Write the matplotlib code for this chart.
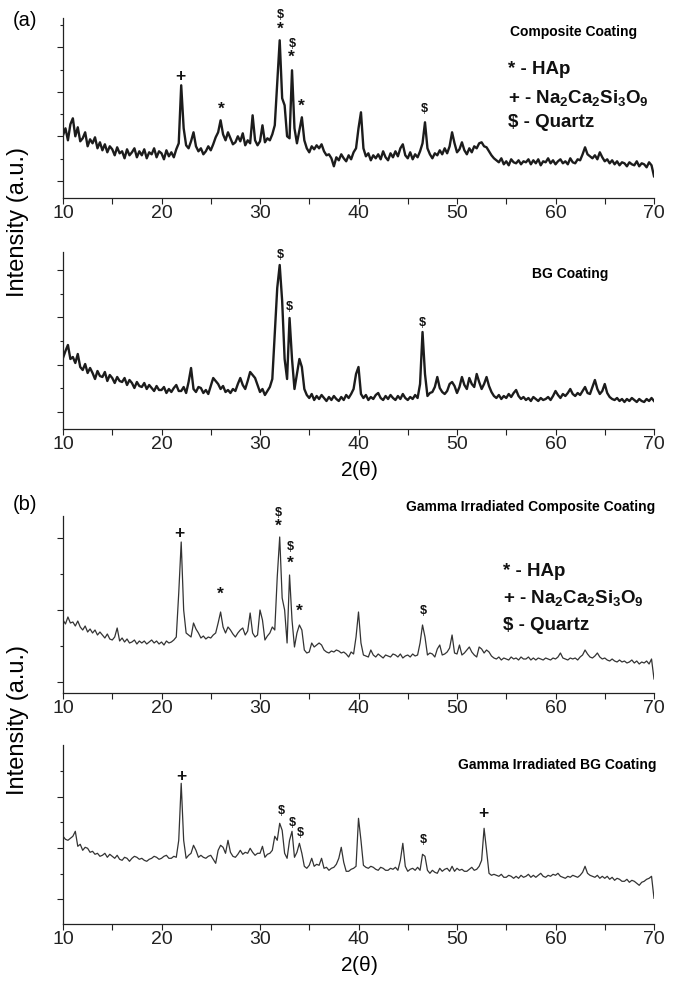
import numpy as np
import matplotlib
matplotlib.use("Agg")
import matplotlib.pyplot as plt
from matplotlib.ticker import MultipleLocator

plt.rcParams['font.family'] = ['Liberation Sans', 'DejaVu Sans']
plt.rcParams['mathtext.fontset'] = 'custom'
plt.rcParams['mathtext.rm'] = 'Liberation Sans:bold'
plt.rcParams['mathtext.it'] = 'Liberation Sans:bold'
plt.rcParams['mathtext.bf'] = 'Liberation Sans:bold'

# 2theta grid, 0.25 deg steps, intensities (a.u.)
two_theta = np.arange(10, 70.001, 0.25)

composite = [
    63, 70, 58, 74, 80, 62, 71, 57, 60, 66, 52, 59, 55, 61, 50, 56,
    48, 54, 46, 52, 49, 43, 51, 45, 47, 40, 49, 43, 46, 50, 41, 47,
    43, 49, 40, 46, 44, 50, 41, 47, 45, 39, 48, 42, 46, 41, 49, 55,
    113, 70, 53, 50, 57, 66, 52, 47, 50, 44, 47, 52, 48, 54, 61, 66,
    78, 64, 58, 66, 60, 54, 56, 62, 57, 65, 53, 58, 55, 83, 58, 53,
    57, 73, 56, 60, 58, 64, 73, 116, 158, 100, 93, 62, 60, 128, 70, 55,
    68, 81, 58, 50, 46, 52, 49, 53, 50, 54, 47, 43, 44, 40, 32, 41,
    38, 44, 40, 37, 43, 39, 46, 50, 70, 86, 50, 42, 45, 38, 43, 40,
    44, 39, 47, 41, 38, 45, 41, 47, 42, 50, 54, 43, 40, 46, 39, 44,
    41, 47, 55, 76, 50, 44, 40, 45, 43, 48, 44, 50, 45, 52, 66, 55,
    46, 49, 56, 48, 44, 50, 46, 52, 50, 55, 56, 52, 51, 47, 43, 40,
    38, 36, 40, 34, 37, 33, 39, 36, 35, 38, 34, 37, 36, 39, 34, 38,
    35, 39, 33, 37, 36, 40, 35, 38, 34, 37, 39, 35, 37, 34, 40, 36,
    35, 39, 38, 44, 51, 44, 42, 40, 43, 39, 46, 41, 37, 39, 35, 38,
    34, 37, 33, 36, 35, 32, 36, 34, 33, 37, 32, 35, 34, 31, 36, 33,
    22]

bg = [
    71, 78, 84, 70, 72, 66, 75, 62, 59, 65, 56, 61, 56, 50, 58, 53,
    52, 57, 48, 54, 51, 46, 52, 48, 47, 51, 44, 49, 46, 41, 47, 43,
    42, 46, 40, 44, 41, 38, 43, 39, 39, 42, 36, 40, 37, 41, 44, 38,
    38, 42, 36, 47, 61, 40, 37, 42, 41, 36, 39, 35, 43, 51, 48, 45,
    40, 43, 37, 39, 36, 40, 38, 45, 51, 44, 40, 48, 57, 54, 51, 44,
    37, 40, 34, 38, 42, 50, 95, 141, 164, 128, 70, 50, 111, 70, 40, 55,
    70, 62, 40, 34, 31, 35, 29, 33, 30, 34, 31, 28, 32, 29, 33, 30,
    28, 32, 29, 34, 31, 35, 40, 55, 62, 35, 31, 34, 29, 32, 30, 34,
    36, 31, 29, 33, 30, 34, 31, 29, 33, 30, 35, 31, 29, 32, 30, 34,
    31, 45, 97, 55, 33, 36, 37, 42, 52, 41, 37, 35, 38, 45, 47, 43,
    36, 42, 52, 44, 40, 51, 45, 42, 55, 47, 40, 45, 52, 43, 37, 33,
    31, 34, 30, 33, 31, 35, 32, 36, 39, 33, 30, 32, 29, 31, 28, 32,
    30, 28, 31, 29, 30, 32, 29, 33, 38, 34, 31, 35, 33, 36, 40, 35,
    33, 36, 34, 38, 42, 36, 35, 42, 49, 40, 35, 38, 45, 36, 32, 30,
    29, 31, 28, 30, 27, 30, 28, 31, 29, 27, 30, 28, 27, 30, 28, 31,
    28]

gamma_composite = [
    73, 69, 76, 70, 71, 67, 72, 66, 63, 67, 61, 64, 60, 63, 58, 61,
    58, 55, 59, 54, 53, 56, 65, 52, 55, 51, 54, 50, 51, 53, 49, 52,
    50, 52, 49, 51, 53, 50, 52, 49, 51, 48, 52, 50, 51, 53, 56, 100,
    151, 83, 60, 58, 56, 70, 64, 60, 55, 57, 54, 56, 55, 58, 60, 70,
    81, 66, 60, 66, 63, 59, 56, 60, 63, 65, 58, 62, 80, 60, 56, 58,
    83, 73, 53, 57, 60, 66, 63, 116, 156, 95, 83, 50, 118, 73, 46, 60,
    68, 63, 43, 40, 41, 50, 46, 48, 50, 48, 43, 41, 40, 42, 41, 43,
    42, 40, 41, 39, 36, 41, 39, 56, 81, 50, 38, 37, 36, 43, 38, 36,
    39, 37, 35, 38, 37, 36, 39, 38, 36, 39, 35, 37, 38, 36, 39, 37,
    38, 50, 68, 56, 38, 40, 39, 36, 44, 48, 38, 39, 41, 45, 58, 40,
    39, 48, 38, 40, 43, 46, 41, 38, 36, 46, 44, 40, 43, 41, 37, 35,
    34, 36, 33, 35, 34, 33, 36, 34, 35, 33, 36, 34, 34, 36, 33, 35,
    33, 35, 34, 33, 35, 34, 33, 35, 34, 36, 40, 35, 34, 33, 35, 34,
    35, 33, 36, 38, 43, 39, 36, 35, 37, 40, 36, 34, 35, 33, 32, 34,
    32, 31, 33, 31, 32, 30, 31, 33, 30, 32, 29, 31, 30, 32, 29, 34,
    14]

gamma_bg = [
    88, 85, 84, 86, 88, 93, 78, 80, 74, 77, 76, 72, 73, 70, 71, 68,
    69, 71, 67, 70, 68, 66, 69, 65, 64, 67, 66, 63, 66, 68, 67, 65,
    66, 64, 63, 65, 66, 68, 67, 65, 66, 68, 69, 66, 66, 68, 67, 84,
    141, 84, 66, 69, 71, 79, 74, 67, 69, 67, 66, 68, 69, 65, 61, 74,
    79, 77, 71, 84, 72, 68, 67, 70, 74, 70, 72, 71, 76, 72, 69, 71,
    71, 78, 67, 70, 71, 74, 88, 84, 101, 94, 71, 66, 84, 93, 67, 72,
    81, 71, 58, 56, 59, 66, 58, 60, 59, 66, 56, 57, 54, 56, 57, 60,
    66, 77, 62, 53, 53, 55, 56, 58, 106, 84, 59, 57, 56, 58, 57, 55,
    54, 57, 56, 54, 54, 56, 55, 57, 54, 64, 81, 58, 53, 55, 56, 54,
    57, 54, 70, 68, 54, 51, 54, 52, 51, 56, 53, 55, 56, 53, 58, 53,
    56, 54, 55, 53, 53, 55, 57, 54, 55, 58, 64, 96, 74, 51, 49, 50,
    49, 48, 50, 47, 47, 49, 48, 46, 48, 46, 49, 47, 48, 50, 47, 49,
    47, 49, 51, 48, 47, 49, 48, 50, 49, 51, 48, 47, 46, 48, 47, 49,
    48, 47, 49, 52, 58, 51, 49, 48, 47, 49, 46, 48, 46, 48, 45, 47,
    44, 46, 45, 43, 43, 45, 42, 44, 43, 41, 39, 42, 43, 45, 46, 48,
    26]

# peak markers: (symbol, 2theta, intensity)
composite_marks = [("+", 21.96, 121.6), ("*", 26.05, 89), ("$", 32.03, 183),
                   ("*", 32.03, 169), ("$", 33.28, 154), ("*", 33.2, 141),
                   ("*", 34.16, 91.6), ("$", 46.71, 89)]
bg_marks = [("$", 32.03, 174), ("$", 32.94, 122.3), ("$", 46.5, 106.3)]
gamma_composite_marks = [("+", 21.79, 159.7), ("*", 25.95, 99), ("$", 31.86, 179.7),
                         ("*", 31.9, 166.3), ("$", 33.04, 145.7), ("*", 33.04, 129.7),
                         ("*", 33.99, 81.3), ("$", 46.54, 82)]
gamma_bg_marks = [("+", 22.06, 147.6), ("$", 32.13, 113.6), ("$", 33.28, 101),
                  ("$", 34.05, 91), ("$", 46.54, 84.3), ("+", 52.64, 111)]

legend_lines = ["* - HAp", r"+ - Na$_2$Ca$_2$Si$_3$O$_9$", "$ - Quartz"]

W, H = 675, 988
fig = plt.figure(figsize=(W / 100, H / 100), dpi=100)


def make_ax(top, bottom):
    return fig.add_axes([63 / W, 1 - bottom / H, 591 / W, (bottom - top) / H])


def style(ax, ymax, majors, minors):
    ax.set_xlim(10, 70)
    ax.set_ylim(0, ymax)
    for s in ['top', 'right']:
        ax.spines[s].set_visible(False)
    for s in ['left', 'bottom']:
        ax.spines[s].set_color('#222222')
        ax.spines[s].set_linewidth(0.9)
    ax.xaxis.set_major_locator(MultipleLocator(10))
    ax.xaxis.set_minor_locator(MultipleLocator(5))
    ax.set_yticks(majors)
    ax.set_yticks(minors, minor=True)
    ax.set_yticklabels([])
    ax.tick_params(axis='x', which='both', length=4, width=0.8, pad=1,
                   labelsize=14, colors='#222222')
    ax.tick_params(axis='y', which='major', length=4, width=0.8, colors='#222222')
    ax.tick_params(axis='y', which='minor', length=2.5, width=0.8, colors='#222222')


def marks(ax, items):
    for sym, x, y in items:
        ax.text(x, y, sym, ha='center', va='center', fontweight='bold',
                fontsize=9 if sym == "$" else 12.5, color='#111111')


def legend(ax, x, ys):
    for txt, y in zip(legend_lines, ys):
        ax.text(x, y, txt, transform=ax.transAxes, ha='left', va='center',
                fontsize=13.5, fontweight='bold', color='#111111')


# panel (a)
ax1 = make_ax(18, 198.3)
style(ax1, 180.3, [17.3, 61.8, 106.3, 150.8], [39.6, 84.1, 128.6, 173.1])
ax1.plot(two_theta, composite, color='#1c1c1c', lw=1.7)
marks(ax1, composite_marks)
ax1.text(0.971, 0.922, "Composite Coating", transform=ax1.transAxes, ha='right',
         va='center', fontsize=10, fontweight='bold')
legend(ax1, 0.753, [0.712, 0.556, 0.418])

ax2 = make_ax(252, 429)
style(ax2, 177, [17.3, 64.5, 111.7, 158.9], [40.9, 88.1, 135.3])
ax2.plot(two_theta, bg, color='#1c1c1c', lw=1.7)
marks(ax2, bg_marks)
ax2.text(0.922, 0.876, "BG Coating", transform=ax2.transAxes, ha='right',
         va='center', fontsize=10, fontweight='bold')
ax2.set_xlabel(r"2($\mathregular{\theta}$)", fontsize=15, labelpad=4)

# panel (b)
ax3 = make_ax(516, 693)
style(ax3, 177, [11.3, 83, 154.7], [47.2, 118.9])
ax3.plot(two_theta, gamma_composite, color='#333333', lw=0.9)
marks(ax3, gamma_composite_marks)
ax3.text(1.002, 1.05, "Gamma Irradiated Composite Coating", transform=ax3.transAxes,
         ha='right', va='center', fontsize=10, fontweight='bold')
legend(ax3, 0.745, [0.684, 0.537, 0.384])

ax4 = make_ax(745, 924.3)
style(ax4, 179.3, [25, 76.3, 127.6], [50.7, 102, 153.3])
ax4.plot(two_theta, gamma_bg, color='#333333', lw=0.9)
marks(ax4, gamma_bg_marks)
ax4.text(1.005, 0.888, "Gamma Irradiated BG Coating", transform=ax4.transAxes,
         ha='right', va='center', fontsize=10, fontweight='bold')
ax4.set_xlabel(r"2($\mathregular{\theta}$)", fontsize=15, labelpad=4)

fig.text(25 / W, 1 - 20 / H, "(a)", ha='center', va='center', fontsize=14.5)
fig.text(25 / W, 1 - 505 / H, "(b)", ha='center', va='center', fontsize=14.5)
fig.text(18 / W, 1 - 222 / H, "Intensity (a.u.)", rotation=90, ha='center',
         va='center', fontsize=17)
fig.text(18 / W, 1 - 720 / H, "Intensity (a.u.)", rotation=90, ha='center',
         va='center', fontsize=17)

fig.savefig("out.png", dpi=100)
